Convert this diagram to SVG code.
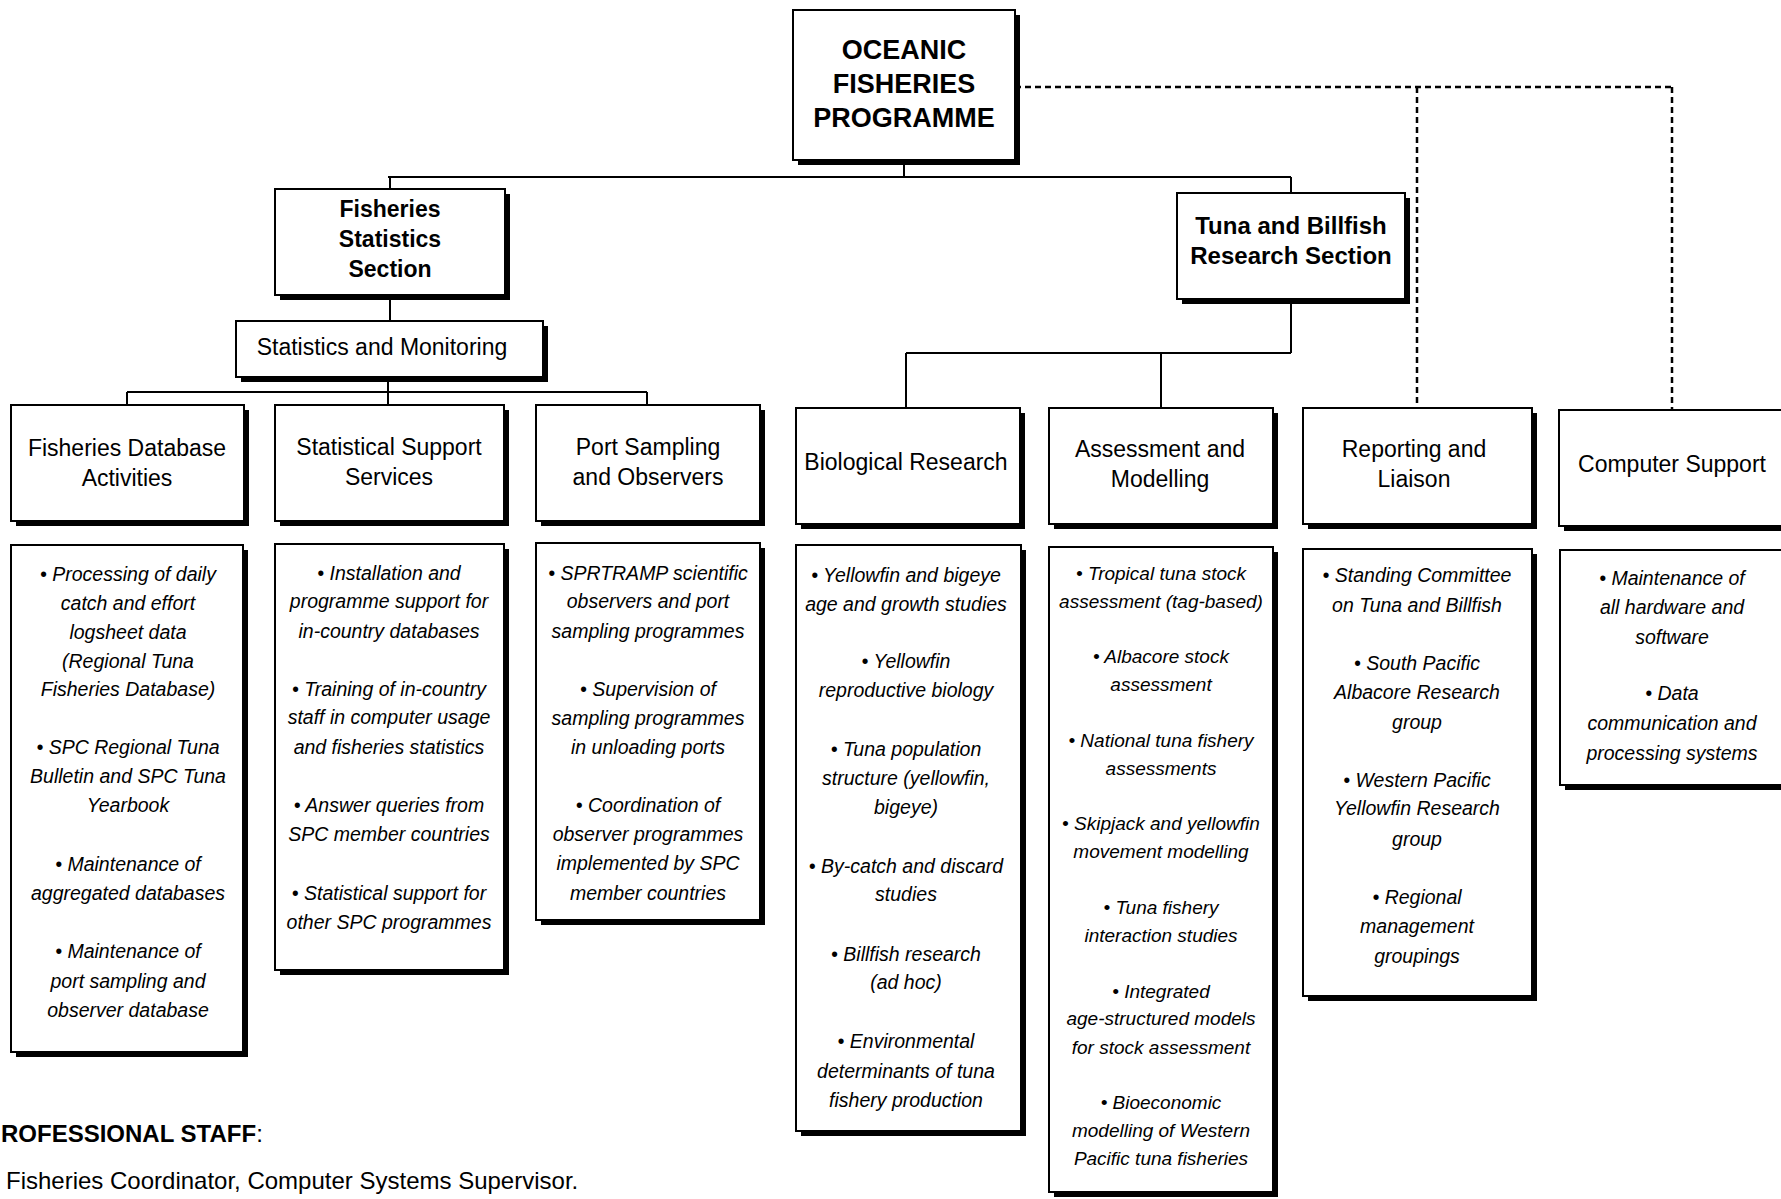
<svg xmlns="http://www.w3.org/2000/svg" width="1781" height="1199" viewBox="0 0 1781 1199">
<style>
text{font-family:"Liberation Sans",Arial,sans-serif;fill:#000;text-anchor:middle}
.box{fill:#fff;stroke:#000;stroke-width:2}
.sh{fill:#000}
.ln{fill:none;stroke:#000;stroke-width:2}
.dash{fill:none;stroke:#000;stroke-width:2.5;stroke-dasharray:6 4}
.top{font-size:27px;font-weight:bold}
.sec{font-size:23px;font-weight:bold}
.hd{font-size:23px}
.it{font-size:19.5px;font-style:italic}
.it2{font-size:19px;font-style:italic}
.st{font-size:24px;text-anchor:start}
</style>
<rect width="1781" height="1199" fill="#fff"/>
<g id="connectors">
<path class="ln" d="M904 160V177M388 177H1291M390 177V189M1291 177V193"/>
<path class="ln" d="M390 295V321M388 377V405M127 392H647M127 392V405M647 392V405"/>
<path class="ln" d="M1291 299V353M906 353H1291M906 353V408M1161 353V408"/>
<path class="dash" d="M1015 87H1672M1417 87V408M1672 87V410"/>
</g>
<g id="n-ofp">
<rect class="sh" x="798" y="15" width="222" height="150"/>
<rect class="box" x="793" y="10" width="222" height="150"/>
<text class="top" x="904" y="59">OCEANIC</text>
<text class="top" x="904" y="93">FISHERIES</text>
<text class="top" x="904" y="127">PROGRAMME</text>
</g>
<g id="n-fss">
<rect class="sh" x="280" y="194" width="230" height="106"/>
<rect class="box" x="275" y="189" width="230" height="106"/>
<text class="sec" x="390" y="217">Fisheries</text>
<text class="sec" x="390" y="247">Statistics</text>
<text class="sec" x="390" y="277">Section</text>
</g>
<g id="n-tbrs">
<rect class="sh" x="1182" y="198" width="228" height="106"/>
<rect class="box" x="1177" y="193" width="228" height="106"/>
<text class="sec" style="font-size:24px" x="1291" y="234">Tuna and Billfish</text>
<text class="sec" style="font-size:24px" x="1291" y="264">Research Section</text>
</g>
<g id="n-sm">
<rect class="sh" x="241" y="326" width="307" height="56"/>
<rect class="box" x="236" y="321" width="307" height="56"/>
<text class="hd" x="382" y="355">Statistics and Monitoring</text>
</g>
<g id="n-fda">
<rect class="sh" x="16" y="410" width="233" height="116"/>
<rect class="box" x="11" y="405" width="233" height="116"/>
<text class="hd" x="127" y="456">Fisheries Database</text>
<text class="hd" x="127" y="486">Activities</text>
</g>
<g id="n-sss">
<rect class="sh" x="280" y="410" width="229" height="116"/>
<rect class="box" x="275" y="405" width="229" height="116"/>
<text class="hd" x="389" y="455">Statistical Support</text>
<text class="hd" x="389" y="485">Services</text>
</g>
<g id="n-pso">
<rect class="sh" x="541" y="410" width="224" height="116"/>
<rect class="box" x="536" y="405" width="224" height="116"/>
<text class="hd" x="648" y="455">Port Sampling</text>
<text class="hd" x="648" y="485">and Observers</text>
</g>
<g id="n-br">
<rect class="sh" x="801" y="413" width="224" height="116"/>
<rect class="box" x="796" y="408" width="224" height="116"/>
<text class="hd" x="906" y="470">Biological Research</text>
</g>
<g id="n-am">
<rect class="sh" x="1054" y="413" width="224" height="116"/>
<rect class="box" x="1049" y="408" width="224" height="116"/>
<text class="hd" x="1160" y="457">Assessment and</text>
<text class="hd" x="1160" y="487">Modelling</text>
</g>
<g id="n-rl">
<rect class="sh" x="1308" y="413" width="229" height="116"/>
<rect class="box" x="1303" y="408" width="229" height="116"/>
<text class="hd" x="1414" y="457">Reporting and</text>
<text class="hd" x="1414" y="487">Liaison</text>
</g>
<g id="n-cs">
<rect class="sh" x="1564" y="415" width="240" height="116"/>
<rect class="box" x="1559" y="410" width="240" height="116"/>
<text class="hd" x="1672" y="472">Computer Support</text>
</g>
<g id="n-fda-items">
<rect class="sh" x="16" y="550" width="232" height="507"/>
<rect class="box" x="11" y="545" width="232" height="507"/>
<text class="it" x="128" y="581">• Processing of daily</text>
<text class="it" x="128" y="610">catch and effort</text>
<text class="it" x="128" y="639">logsheet data</text>
<text class="it" x="128" y="668">(Regional Tuna</text>
<text class="it" x="128" y="696">Fisheries Database)</text>
<text class="it" x="128" y="754">• SPC Regional Tuna</text>
<text class="it" x="128" y="783">Bulletin and SPC Tuna</text>
<text class="it" x="128" y="812">Yearbook</text>
<text class="it" x="128" y="871">• Maintenance of</text>
<text class="it" x="128" y="900">aggregated databases</text>
<text class="it" x="128" y="958">• Maintenance of</text>
<text class="it" x="128" y="988">port sampling and</text>
<text class="it" x="128" y="1017">observer database</text>
</g>
<g id="n-sss-items">
<rect class="sh" x="280" y="549" width="229" height="426"/>
<rect class="box" x="275" y="544" width="229" height="426"/>
<text class="it" x="389" y="580">• Installation and</text>
<text class="it" x="389" y="608">programme support for</text>
<text class="it" x="389" y="638">in-country databases</text>
<text class="it" x="389" y="696">• Training of in-country</text>
<text class="it" x="389" y="724">staff in computer usage</text>
<text class="it" x="389" y="754">and fisheries statistics</text>
<text class="it" x="389" y="812">• Answer queries from</text>
<text class="it" x="389" y="841">SPC member countries</text>
<text class="it" x="389" y="900">• Statistical support for</text>
<text class="it" x="389" y="929">other SPC programmes</text>
</g>
<g id="n-pso-items">
<rect class="sh" x="541" y="548" width="224" height="377"/>
<rect class="box" x="536" y="543" width="224" height="377"/>
<text class="it" x="648" y="580">• SPRTRAMP scientific</text>
<text class="it" x="648" y="608">observers and port</text>
<text class="it" x="648" y="638">sampling programmes</text>
<text class="it" x="648" y="696">• Supervision of</text>
<text class="it" x="648" y="725">sampling programmes</text>
<text class="it" x="648" y="754">in unloading ports</text>
<text class="it" x="648" y="812">• Coordination of</text>
<text class="it" x="648" y="841">observer programmes</text>
<text class="it" x="648" y="870">implemented by SPC</text>
<text class="it" x="648" y="900">member countries</text>
</g>
<g id="n-br-items">
<rect class="sh" x="801" y="550" width="225" height="586"/>
<rect class="box" x="796" y="545" width="225" height="586"/>
<text class="it" x="906" y="582">• Yellowfin and bigeye</text>
<text class="it" x="906" y="611">age and growth studies</text>
<text class="it" x="906" y="668">• Yellowfin</text>
<text class="it" x="906" y="697">reproductive biology</text>
<text class="it" x="906" y="756">• Tuna population</text>
<text class="it" x="906" y="785">structure (yellowfin,</text>
<text class="it" x="906" y="814">bigeye)</text>
<text class="it" x="906" y="873">• By-catch and discard</text>
<text class="it" x="906" y="901">studies</text>
<text class="it" x="906" y="961">• Billfish research</text>
<text class="it" x="906" y="989">(ad hoc)</text>
<text class="it" x="906" y="1048">• Environmental</text>
<text class="it" x="906" y="1078">determinants of tuna</text>
<text class="it" x="906" y="1107">fishery production</text>
</g>
<g id="n-am-items">
<rect class="sh" x="1054" y="552" width="224" height="645"/>
<rect class="box" x="1049" y="547" width="224" height="645"/>
<text class="it2" x="1161" y="580">• Tropical tuna stock</text>
<text class="it2" x="1161" y="608">assessment (tag-based)</text>
<text class="it2" x="1161" y="663">• Albacore stock</text>
<text class="it2" x="1161" y="691">assessment</text>
<text class="it2" x="1161" y="747">• National tuna fishery</text>
<text class="it2" x="1161" y="775">assessments</text>
<text class="it2" x="1161" y="830">• Skipjack and yellowfin</text>
<text class="it2" x="1161" y="858">movement modelling</text>
<text class="it2" x="1161" y="914">• Tuna fishery</text>
<text class="it2" x="1161" y="942">interaction studies</text>
<text class="it2" x="1161" y="998">• Integrated</text>
<text class="it2" x="1161" y="1025">age-structured models</text>
<text class="it2" x="1161" y="1054">for stock assessment</text>
<text class="it2" x="1161" y="1109">• Bioeconomic</text>
<text class="it2" x="1161" y="1137">modelling of Western</text>
<text class="it2" x="1161" y="1165">Pacific tuna fisheries</text>
</g>
<g id="n-rl-items">
<rect class="sh" x="1308" y="554" width="229" height="447"/>
<rect class="box" x="1303" y="549" width="229" height="447"/>
<text class="it" x="1417" y="582">• Standing Committee</text>
<text class="it" x="1417" y="612">on Tuna and Billfish</text>
<text class="it" x="1417" y="670">• South Pacific</text>
<text class="it" x="1417" y="699">Albacore Research</text>
<text class="it" x="1417" y="729">group</text>
<text class="it" x="1417" y="787">• Western Pacific</text>
<text class="it" x="1417" y="815">Yellowfin Research</text>
<text class="it" x="1417" y="846">group</text>
<text class="it" x="1417" y="904">• Regional</text>
<text class="it" x="1417" y="933">management</text>
<text class="it" x="1417" y="963">groupings</text>
</g>
<g id="n-cs-items">
<rect class="sh" x="1565" y="555" width="240" height="235"/>
<rect class="box" x="1560" y="550" width="240" height="235"/>
<text class="it" x="1672" y="585">• Maintenance of</text>
<text class="it" x="1672" y="614">all hardware and</text>
<text class="it" x="1672" y="644">software</text>
<text class="it" x="1672" y="700">• Data</text>
<text class="it" x="1672" y="730">communication and</text>
<text class="it" x="1672" y="760">processing systems</text>
</g>
<g id="staff">
<text class="st" x="1" y="1142"><tspan font-weight="bold">ROFESSIONAL STAFF</tspan>:</text>
<text class="st" x="6" y="1189">Fisheries Coordinator, Computer Systems Supervisor.</text>
</g>
</svg>
